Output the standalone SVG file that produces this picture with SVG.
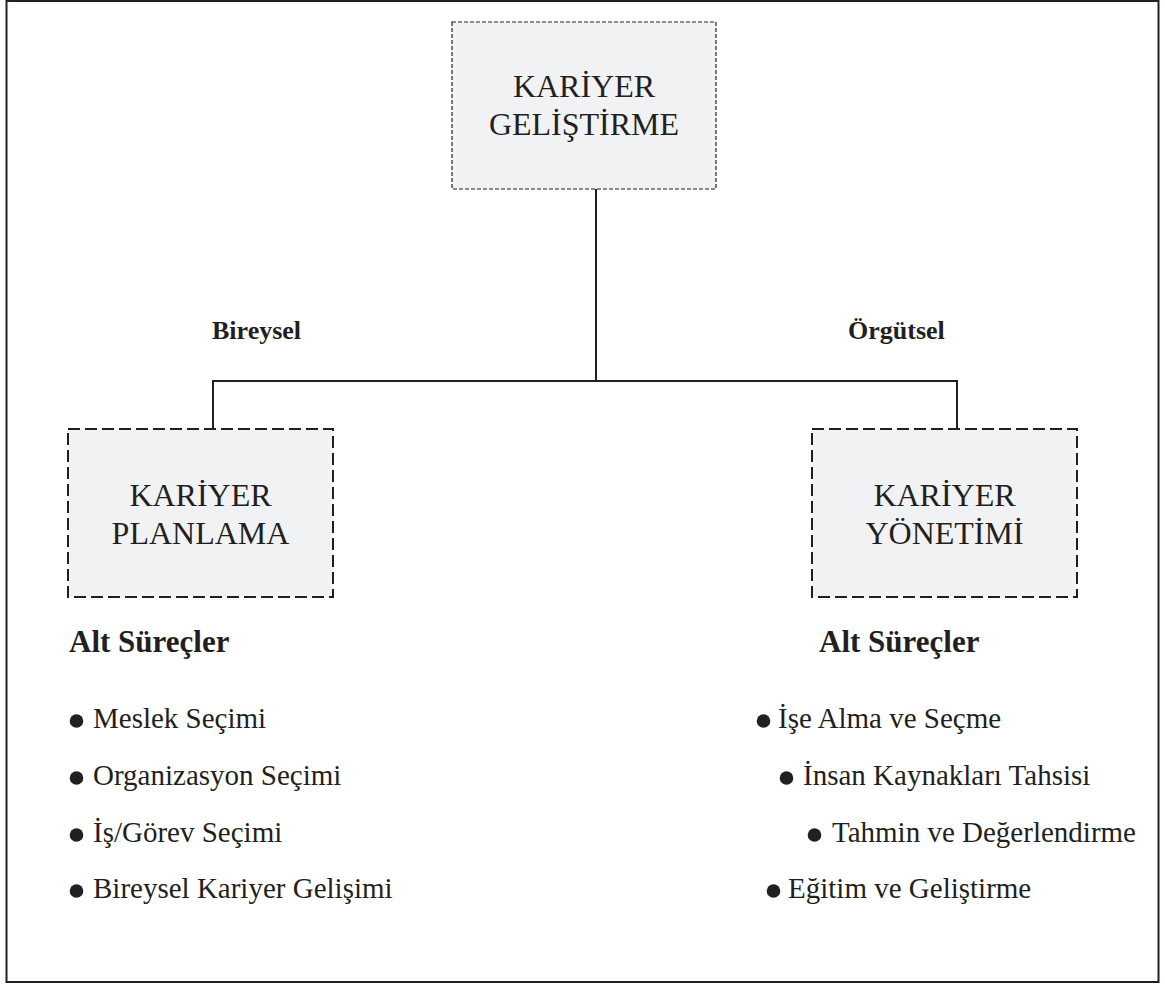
<svg xmlns="http://www.w3.org/2000/svg" width="1165" height="985" viewBox="0 0 1165 985">
  <style>
    .frame { fill: #ffffff; stroke: #231f20; stroke-width: 2; }
    .box-top { fill: #f1f2f4; stroke: #231f20; stroke-width: 1.2; stroke-dasharray: 4 2; }
    .box { fill: #f1f2f4; stroke: #231f20; stroke-width: 2; stroke-dasharray: 12 5; }
    .link { fill: none; stroke: #231f20; stroke-width: 2; }
    .title { font-family: "Liberation Serif", "Times New Roman", serif; font-size: 32px; fill: #231f20; text-anchor: middle; }
    .side { font-family: "Liberation Serif", "Times New Roman", serif; font-size: 26px; font-weight: bold; fill: #231f20; }
    .head { font-family: "Liberation Serif", "Times New Roman", serif; font-size: 31px; font-weight: bold; fill: #231f20; }
    .item { font-family: "Liberation Serif", "Times New Roman", serif; font-size: 29px; fill: #231f20; }
    .dot { fill: #231f20; }
  </style>

  <rect class="frame" x="6.5" y="1" width="1152" height="981"/>

  <!-- connectors -->
  <g id="connectors">
    <path class="link" d="M596 189 V381"/>
    <path class="link" d="M213 429 V381 H957 V429"/>
  </g>

  <!-- root node -->
  <g id="node-gelistirme">
    <rect class="box-top" x="452" y="22" width="264" height="167"/>
    <text class="title" x="584" y="97">KARİYER</text>
    <text class="title" x="584" y="135">GELİŞTİRME</text>
  </g>

  <!-- branch labels -->
  <g id="label-bireysel">
    <text class="side" x="212" y="339">Bireysel</text>
  </g>
  <g id="label-orgutsel">
    <text class="side" x="848" y="339">Örgütsel</text>
  </g>

  <!-- individual branch -->
  <g id="node-planlama">
    <rect class="box" x="68" y="429" width="265" height="168"/>
    <text class="title" x="200.5" y="506">KARİYER</text>
    <text class="title" x="200.5" y="544">PLANLAMA</text>
  </g>

  <!-- organisational branch -->
  <g id="node-yonetim">
    <rect class="box" x="812" y="429" width="265" height="168"/>
    <text class="title" x="944.5" y="506">KARİYER</text>
    <text class="title" x="944.5" y="544">YÖNETİMİ</text>
  </g>

  <!-- sub-processes, left -->
  <g id="list-planlama">
    <text class="head" x="69" y="652">Alt Süreçler</text>
    <circle class="dot" cx="76.5" cy="721" r="6.8"/>
    <text class="item" x="93" y="728">Meslek Seçimi</text>
    <circle class="dot" cx="76.5" cy="778" r="6.8"/>
    <text class="item" x="93" y="785">Organizasyon Seçimi</text>
    <circle class="dot" cx="76.5" cy="835" r="6.8"/>
    <text class="item" x="93" y="842">İş/Görev Seçimi</text>
    <circle class="dot" cx="76.5" cy="891" r="6.8"/>
    <text class="item" x="93" y="898">Bireysel Kariyer Gelişimi</text>
  </g>

  <!-- sub-processes, right -->
  <g id="list-yonetim">
    <text class="head" x="819" y="652">Alt Süreçler</text>
    <circle class="dot" cx="763.5" cy="721" r="6.8"/>
    <text class="item" x="778" y="728">İşe Alma ve Seçme</text>
    <circle class="dot" cx="786.5" cy="778" r="6.8"/>
    <text class="item" x="803" y="785">İnsan Kaynakları Tahsisi</text>
    <circle class="dot" cx="814.5" cy="835" r="6.8"/>
    <text class="item" x="832" y="842">Tahmin ve Değerlendirme</text>
    <circle class="dot" cx="773.5" cy="891" r="6.8"/>
    <text class="item" x="788" y="898">Eğitim ve Geliştirme</text>
  </g>
</svg>
